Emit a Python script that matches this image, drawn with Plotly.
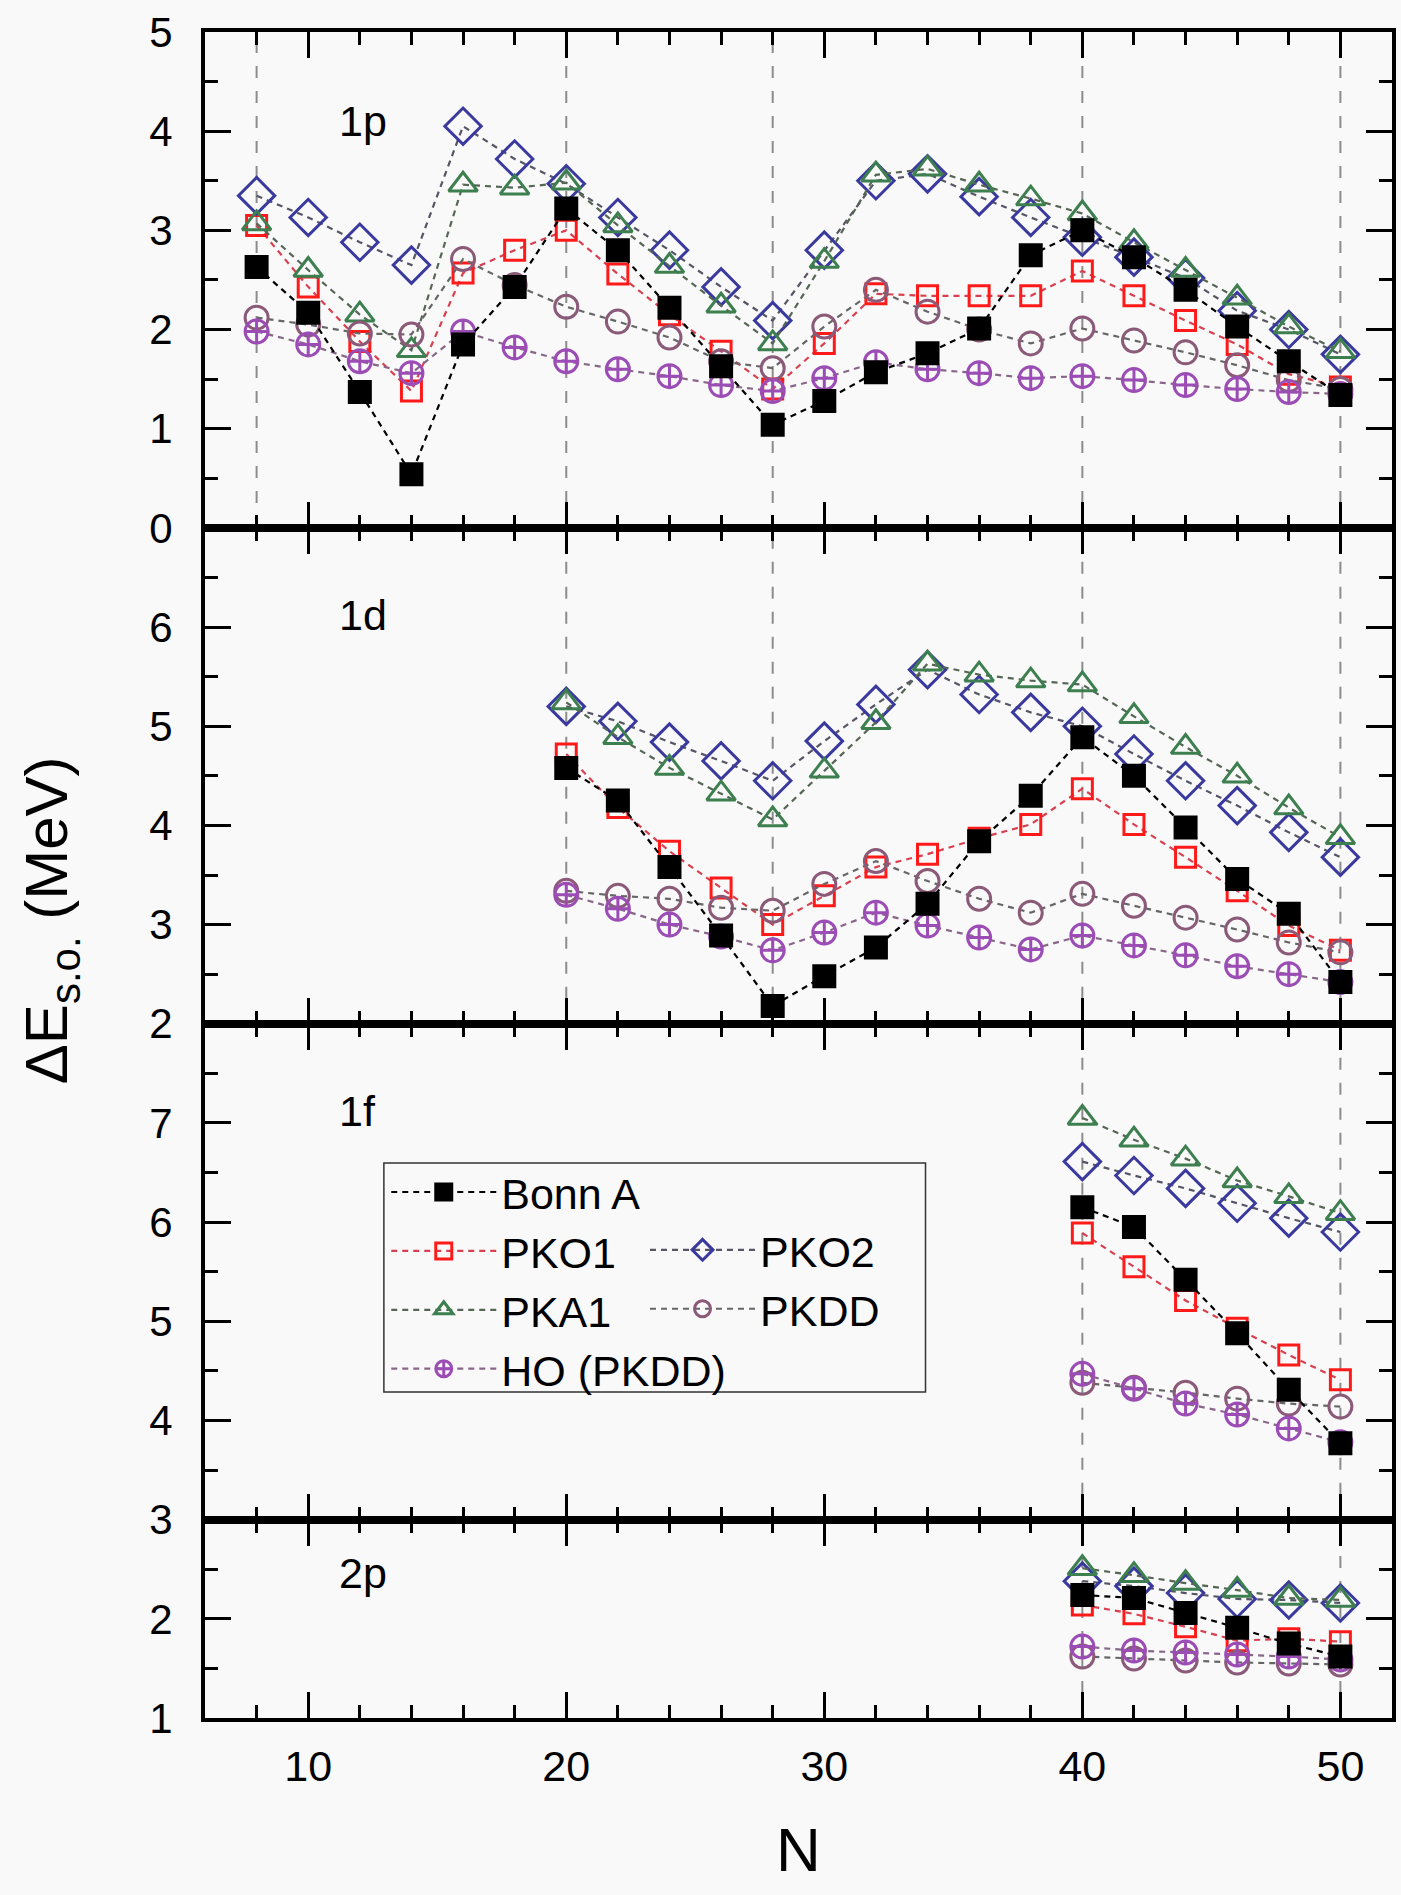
import plotly.graph_objects as go
from plotly.subplots import make_subplots

# neutron numbers per panel
N_1p = [8, 10, 12, 14, 16, 18, 20, 22, 24, 26, 28, 30, 32, 34, 36, 38, 40, 42, 44, 46, 48, 50]
N_1d = [20, 22, 24, 26, 28, 30, 32, 34, 36, 38, 40, 42, 44, 46, 48, 50]
N_1f = [40, 42, 44, 46, 48, 50]
N_2p = [40, 42, 44, 46, 48, 50]

# 1p splitting (MeV)
bonn_1p = [2.63, 2.17, 1.37, 0.54, 1.85, 2.43, 3.22, 2.80, 2.22, 1.63, 1.04, 1.28, 1.57, 1.76, 2.01, 2.75, 3.00, 2.73, 2.40, 2.03, 1.68, 1.34]
pko1_1p = [3.05, 2.43, 1.88, 1.38, 2.57, 2.80, 3.00, 2.56, 2.15, 1.78, 1.40, 1.86, 2.36, 2.34, 2.34, 2.34, 2.59, 2.34, 2.09, 1.85, 1.55, 1.42]
pko2_1p = [3.35, 3.13, 2.88, 2.65, 4.05, 3.72, 3.47, 3.13, 2.80, 2.43, 2.09, 2.80, 3.50, 3.57, 3.34, 3.13, 2.93, 2.73, 2.52, 2.19, 2.00, 1.75]
pka1_1p = [3.07, 2.60, 2.15, 1.79, 3.46, 3.43, 3.48, 3.05, 2.64, 2.24, 1.86, 2.69, 3.56, 3.62, 3.46, 3.32, 3.17, 2.88, 2.60, 2.32, 2.03, 1.78]
pkdd_1p = [2.12, 2.05, 1.96, 1.95, 2.71, 2.45, 2.23, 2.08, 1.92, 1.68, 1.61, 2.03, 2.40, 2.18, 2.00, 1.86, 2.01, 1.89, 1.77, 1.64, 1.49, 1.40]
ho_1p = [1.98, 1.85, 1.68, 1.56, 1.98, 1.82, 1.68, 1.60, 1.53, 1.44, 1.38, 1.51, 1.67, 1.60, 1.56, 1.51, 1.53, 1.49, 1.44, 1.40, 1.37, 1.35]

# 1d splitting
bonn_1d = [4.58, 4.25, 3.58, 2.89, 2.18, 2.48, 2.77, 3.21, 3.84, 4.30, 4.89, 4.50, 3.98, 3.46, 3.11, 2.42]
pko1_1d = [4.72, 4.18, 3.74, 3.37, 3.00, 3.29, 3.58, 3.71, 3.87, 4.01, 4.37, 4.01, 3.68, 3.34, 2.99, 2.74]
pko2_1d = [5.20, 5.05, 4.84, 4.65, 4.45, 4.85, 5.22, 5.57, 5.32, 5.14, 5.00, 4.72, 4.45, 4.20, 3.93, 3.68]
pka1_1d = [5.24, 4.89, 4.58, 4.32, 4.06, 4.55, 5.04, 5.63, 5.52, 5.46, 5.42, 5.10, 4.79, 4.50, 4.18, 3.88]
pkdd_1d = [3.34, 3.29, 3.26, 3.17, 3.14, 3.41, 3.64, 3.44, 3.26, 3.12, 3.31, 3.19, 3.07, 2.95, 2.82, 2.72]
ho_1d = [3.30, 3.16, 3.00, 2.88, 2.74, 2.92, 3.12, 2.99, 2.87, 2.75, 2.89, 2.79, 2.69, 2.58, 2.50, 2.42]

# 1f splitting
bonn_1f = [6.15, 5.95, 5.42, 4.88, 4.31, 3.77]
pko1_1f = [5.89, 5.55, 5.21, 4.93, 4.66, 4.41]
pko2_1f = [6.61, 6.47, 6.34, 6.19, 6.04, 5.90]
pka1_1f = [7.05, 6.83, 6.64, 6.42, 6.26, 6.09]
pkdd_1f = [4.38, 4.33, 4.28, 4.22, 4.17, 4.14]
ho_1f = [4.47, 4.32, 4.17, 4.06, 3.92, 3.78]

# 2p splitting
bonn_2p = [2.24, 2.21, 2.06, 1.91, 1.75, 1.62]
pko1_2p = [2.14, 2.05, 1.92, 1.78, 1.80, 1.77]
pko2_2p = [2.38, 2.33, 2.26, 2.20, 2.19, 2.16]
pka1_2p = [2.51, 2.44, 2.36, 2.29, 2.21, 2.19]
pkdd_2p = [1.62, 1.60, 1.58, 1.56, 1.55, 1.54]
ho_2p = [1.72, 1.68, 1.66, 1.64, 1.62, 1.59]

panel_names = ["1p", "1d", "1f", "2p"]
panel_ranges = [[0, 5], [2, 7], [3, 8], [1, 3]]
panel_label_y = [4.1, 6.12, 7.12, 2.46]
magic_N = [[8, 20, 28, 40, 50], [20, 28, 40, 50], [40, 50], [40, 50]]

FONT = "Arial, Liberation Sans, sans-serif"
BG = "#F9F9F9"

series = [
  dict(name="Bonn A", data=[bonn_1p, bonn_1d, bonn_1f, bonn_2p],
       symbol="square", size=21, color="black", line="black",
       legend="legend", rank=1),
  dict(name="PKO1", data=[pko1_1p, pko1_1d, pko1_1f, pko1_2p],
       symbol="square-open", size=20, color="#FF1A1A", line="#D84050",
       legend="legend", rank=2),
  dict(name="PKO2", data=[pko2_1p, pko2_1d, pko2_1f, pko2_2p],
       symbol="diamond-open", size=28, color="#3A3A9E", line="#555566",
       legend="legend2", rank=1),
  dict(name="PKA1", data=[pka1_1p, pka1_1d, pka1_1f, pka1_2p],
       symbol="triangle-up-open", size=25, color="#3D7F4F", line="#556655",
       legend="legend", rank=3),
  dict(name="PKDD", data=[pkdd_1p, pkdd_1d, pkdd_1f, pkdd_2p],
       symbol="circle-open", size=23, color="#8A5A78", line="#666666",
       legend="legend2", rank=2),
  dict(name="HO (PKDD)", data=[ho_1p, ho_1d, ho_1f, ho_2p],
       symbol="circle-cross-open", size=23, color="#9B4DB5", line="#886688",
       legend="legend", rank=4),
]
N_panels = [N_1p, N_1d, N_1f, N_2p]

fig = make_subplots(rows=4, cols=1, shared_xaxes=True,
                    vertical_spacing=0, row_heights=[5, 5, 5, 2])

# draw order: open symbols first, Bonn A on top
for s in series[1:] + series[:1]:
  for i in range(4):
    fig.add_trace(go.Scatter(
      x=N_panels[i], y=s["data"][i], name=s["name"],
      mode="lines+markers",
      line=dict(color=s["line"], width=2.2, dash="6px,5px"),
      marker=dict(symbol=s["symbol"], size=s["size"], color=s["color"],
                  line=dict(color=s["color"], width=3)),
      legend=s["legend"], legendgroup=s["name"], legendrank=s["rank"],
      showlegend=(i == 0)),
      row=i + 1, col=1)

# vertical guides at magic numbers
for i in range(4):
  yref = "y domain" if i == 0 else "y%d domain" % (i + 1)
  xref = "x" if i == 0 else "x%d" % (i + 1)
  for n in magic_N[i]:
    fig.add_shape(type="line", xref=xref, yref=yref, x0=n, x1=n, y0=0, y1=1,
                  line=dict(color="#8C8C8C", width=2, dash="12px,13px"),
                  layer="below")

for i in range(4):
  lo, hi = panel_ranges[i]
  # the top value of lower panels is labelled by the panel above
  vals = list(range(lo, hi + 1)) if i == 0 else list(range(lo, hi))
  fig.update_yaxes(
    row=i + 1, col=1, range=[lo, hi], tickvals=vals,
    ticks="inside", ticklen=26, tickwidth=3, tickcolor="black",
    minor=dict(dtick=0.5, tick0=0, ticks="inside", ticklen=13,
               tickwidth=3, tickcolor="black"),
    showline=True, linewidth=4, linecolor="black", mirror="allticks",
    showgrid=False, zeroline=False, ticklabelstandoff=20,
    tickfont=dict(family=FONT, size=42, color="black"))
  fig.update_xaxes(
    row=i + 1, col=1, range=[6, 52], tickvals=[10, 20, 30, 40, 50],
    ticks="inside", ticklen=26, tickwidth=3, tickcolor="black",
    minor=dict(dtick=2, tick0=0, ticks="inside", ticklen=13,
               tickwidth=3, tickcolor="black"),
    showline=True, linewidth=4, linecolor="black", mirror="allticks",
    showgrid=False, zeroline=False, showticklabels=(i == 3),
    ticklabelstandoff=7,
    tickfont=dict(family=FONT, size=43, color="black"))

  yref = "y" if i == 0 else "y%d" % (i + 1)
  xref = "x" if i == 0 else "x%d" % (i + 1)
  fig.add_annotation(x=11.1, y=panel_label_y[i], xref=xref, yref=yref,
                     text=panel_names[i], showarrow=False, xanchor="left",
                     yanchor="middle",
                     font=dict(family=FONT, size=43, color="black"))

fig.update_xaxes(row=4, col=1, title=dict(
  text="N", standoff=40, font=dict(family=FONT, size=62, color="black")))

fig.add_annotation(xref="paper", yref="paper", x=-0.13, y=0.473,
                   text="\u0394E<sub>s.o.</sub> (MeV)", textangle=-90,
                   showarrow=False, xanchor="center", yanchor="middle",
                   font=dict(family=FONT, size=60, color="black"))

# legend frame
fig.add_shape(type="rect", xref="paper", yref="paper",
              x0=0.1507, x1=0.607, y0=0.1934, y1=0.3292,
              line=dict(color="#333333", width=1.5), fillcolor=BG,
              layer="above")

legend_style = dict(font=dict(family=FONT, size=43, color="black"),
                    bgcolor="rgba(0,0,0,0)", borderwidth=0,
                    tracegroupgap=0, itemsizing="trace", itemwidth=105,
                    xanchor="left", yanchor="top", orientation="v",
                    traceorder="normal")

fig.update_layout(
  width=1401, height=1895,
  margin=dict(l=205, r=5, t=32, b=177),
  paper_bgcolor=BG, plot_bgcolor=BG,
  showlegend=True,
  legend=dict(x=0.1527, y=0.3324, **legend_style),
  legend2=dict(x=0.3707, y=0.2981, **legend_style),
)

fig.write_html("out.html", config={"displayModeBar": False},
               post_script="document.body.style.margin = '0';")
